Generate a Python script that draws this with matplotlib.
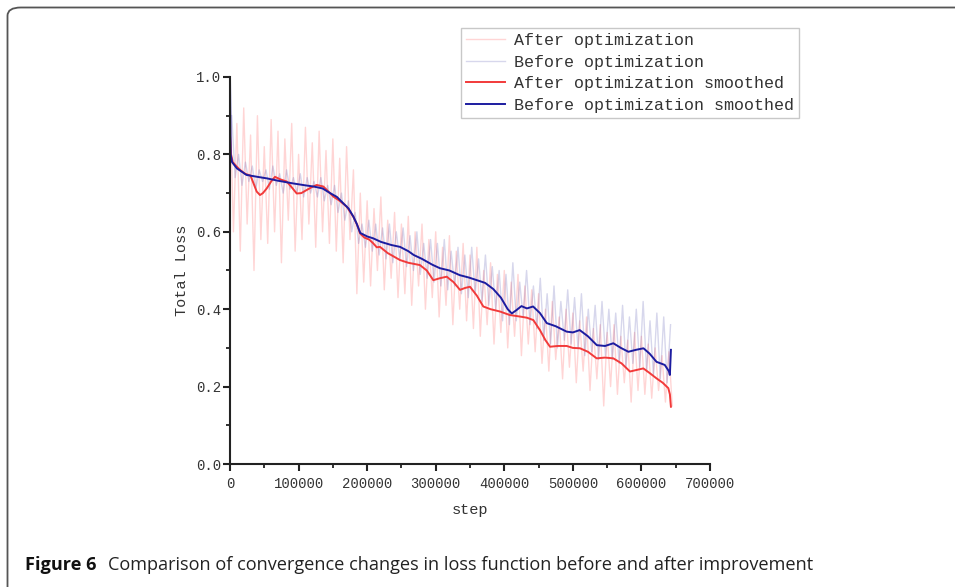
import matplotlib
matplotlib.use("Agg")
import matplotlib.pyplot as plt
from matplotlib.patches import FancyBboxPatch
from matplotlib.ticker import MultipleLocator, FuncFormatter

# ---------------- data ----------------
raw_after_x = list(range(0, 650000, 5000))
raw_after_y = [
    0.95, 0.60, 0.88, 0.55, 0.92, 0.62, 0.85, 0.50, 0.90, 0.58,
    0.82, 0.57, 0.89, 0.60, 0.86, 0.52, 0.84, 0.63, 0.88, 0.55,
    0.80, 0.58, 0.87, 0.62, 0.83, 0.56, 0.86, 0.60, 0.81, 0.57,
    0.84, 0.55, 0.79, 0.52, 0.82, 0.58, 0.76, 0.44, 0.70, 0.47,
    0.68, 0.46, 0.66, 0.50, 0.69, 0.45, 0.63, 0.48, 0.65, 0.43,
    0.62, 0.44, 0.64, 0.41, 0.60, 0.46, 0.62, 0.40, 0.58, 0.43,
    0.60, 0.38, 0.56, 0.41, 0.59, 0.36, 0.55, 0.40, 0.57, 0.37,
    0.54, 0.35, 0.56, 0.33, 0.50, 0.36, 0.52, 0.31, 0.49, 0.34,
    0.50, 0.30, 0.47, 0.33, 0.49, 0.28, 0.46, 0.31, 0.45, 0.29,
    0.44, 0.26, 0.40, 0.24, 0.42, 0.27, 0.38, 0.22, 0.40, 0.25,
    0.39, 0.21, 0.37, 0.24, 0.38, 0.19, 0.35, 0.22, 0.36, 0.15,
    0.34, 0.20, 0.36, 0.18, 0.33, 0.21, 0.32, 0.16, 0.34, 0.19,
    0.33, 0.18, 0.31, 0.17, 0.30, 0.19, 0.28, 0.16, 0.29, 0.15,
]

raw_before_x = list(range(2500, 645000, 5000))
raw_before_y = [
    0.90, 0.74, 0.80, 0.72, 0.78, 0.73, 0.77, 0.71, 0.76, 0.73,
    0.76, 0.71, 0.77, 0.72, 0.75, 0.70, 0.76, 0.71, 0.74, 0.70,
    0.75, 0.69, 0.74, 0.70, 0.73, 0.69, 0.74, 0.68, 0.72, 0.67,
    0.72, 0.65, 0.70, 0.63, 0.68, 0.60, 0.65, 0.57, 0.62, 0.56,
    0.63, 0.55, 0.62, 0.54, 0.61, 0.53, 0.62, 0.52, 0.60, 0.53,
    0.61, 0.51, 0.59, 0.50, 0.60, 0.49, 0.57, 0.48, 0.58, 0.47,
    0.57, 0.46, 0.58, 0.45, 0.55, 0.46, 0.56, 0.44, 0.54, 0.43,
    0.56, 0.44, 0.53, 0.42, 0.54, 0.41, 0.51, 0.40, 0.50, 0.37,
    0.49, 0.36, 0.52, 0.37, 0.47, 0.38, 0.50, 0.36, 0.46, 0.35,
    0.48, 0.32, 0.44, 0.31, 0.46, 0.30, 0.42, 0.32, 0.45, 0.31,
    0.43, 0.30, 0.44, 0.28, 0.40, 0.29, 0.41, 0.27, 0.42, 0.28,
    0.40, 0.27, 0.39, 0.26, 0.41, 0.25, 0.38, 0.26, 0.40, 0.25,
    0.42, 0.24, 0.37, 0.23, 0.39, 0.22, 0.38, 0.21, 0.36,
]

smooth_before_x = [0, 1000, 3000, 10000, 24000, 40000, 54000, 70000, 92000, 110000,
                   122000, 135000, 146000, 156000, 165000, 173000, 180000, 185000, 190000, 200000,
                   209000, 220000, 235000, 248000, 260000, 268000, 280000, 295000, 306000, 320000,
                   335000, 348000, 360000, 372000, 384000, 395000, 405000, 411000, 418000, 425000,
                   433000, 442000, 452000, 462000, 475000, 491000, 500000, 510000, 522000, 535000,
                   547000, 559000, 570000, 581000, 592000, 603000, 612000, 622000, 634000, 640000,
                   641500, 643000]
smooth_before_y = [1.0, 0.80, 0.78, 0.764, 0.747, 0.742, 0.738, 0.732, 0.725, 0.72,
                   0.717, 0.712, 0.70, 0.69, 0.674, 0.66, 0.639, 0.62, 0.597, 0.588,
                   0.583, 0.574, 0.566, 0.561, 0.55, 0.54, 0.53, 0.515, 0.506, 0.50,
                   0.488, 0.482, 0.475, 0.468, 0.452, 0.43, 0.40, 0.389, 0.398, 0.408,
                   0.402, 0.407, 0.39, 0.364, 0.356, 0.342, 0.34, 0.346, 0.33, 0.307,
                   0.305, 0.312, 0.30, 0.29, 0.295, 0.299, 0.285, 0.264, 0.256, 0.24,
                   0.23, 0.295]

smooth_after_x = [0, 1500, 4000, 9000, 14600, 22000, 30000, 38900, 43750, 48000,
                  53500, 60000, 65600, 74000, 82700, 90000, 97300, 104000, 111800, 119000,
                  126400, 136100, 143000, 150700, 160000, 170200, 179800, 185000, 189600, 196000,
                  203000, 209000, 214000, 218750, 230000, 247900, 260000, 277000, 287000, 296500,
                  306000, 316000, 326000, 335400, 343000, 350000, 360000, 369400, 380000, 393750,
                  408000, 422900, 433000, 442300, 452000, 460000, 466700, 478000, 491000, 500000,
                  510400, 522000, 534700, 547000, 559000, 571000, 583300, 593000, 602800, 612000,
                  622200, 631000, 639200, 641500, 643000]
smooth_after_y = [0.85, 0.80, 0.78, 0.77, 0.76, 0.75, 0.745, 0.704, 0.695, 0.70,
                  0.712, 0.73, 0.742, 0.735, 0.73, 0.715, 0.699, 0.70, 0.708, 0.715,
                  0.721, 0.717, 0.705, 0.691, 0.68, 0.665, 0.639, 0.62, 0.596, 0.585,
                  0.58, 0.570, 0.560, 0.561, 0.545, 0.527, 0.52, 0.514, 0.50, 0.475,
                  0.48, 0.484, 0.47, 0.45, 0.455, 0.458, 0.435, 0.407, 0.40, 0.394,
                  0.385, 0.381, 0.378, 0.372, 0.346, 0.32, 0.303, 0.305, 0.305, 0.30,
                  0.299, 0.29, 0.273, 0.275, 0.273, 0.26, 0.239, 0.243, 0.247, 0.235,
                  0.221, 0.21, 0.196, 0.18, 0.148]

labels = ["After optimization", "Before optimization",
          "After optimization smoothed", "Before optimization smoothed"]
x_label = "step"
y_label = "Total Loss"
caption_bold = "Figure 6"
caption_text = "Comparison of convergence changes in loss function before and after improvement"

# ---------------- figure ----------------
W, H = 955, 587
fig = plt.figure(figsize=(W / 100, H / 100), dpi=100)

# rounded frame (clipped at right and bottom)
frame = FancyBboxPatch((7.5 / W, -30 / H), (W + 40) / W, (H + 30 - 7.5) / H,
                       boxstyle="round,pad=0,rounding_size=0.014",
                       transform=fig.transFigure, fill=False,
                       edgecolor="#555555", linewidth=1.3, clip_on=True)
fig.patches.append(frame)

ax = fig.add_axes([230 / W, 1 - 464 / H, 480 / W, 387 / H])
ax.set_facecolor("none")

mono = "Liberation Mono"
tc = "#333333"

ax.plot(raw_after_x, raw_after_y, color="#ff5a5a", alpha=0.25, lw=1.0, label=labels[0])
ax.plot(raw_before_x, raw_before_y, color="#4a4aaa", alpha=0.22, lw=1.0, label=labels[1])
ax.plot(smooth_after_x, smooth_after_y, color="#f23a3a", lw=1.4, label=labels[2])
ax.plot(smooth_before_x, smooth_before_y, color="#1c1ca0", lw=1.4, label=labels[3])

ax.set_xlim(0, 700000)
ax.set_ylim(0, 1.0)
ax.xaxis.set_major_locator(MultipleLocator(100000))
ax.xaxis.set_minor_locator(MultipleLocator(50000))
ax.yaxis.set_major_locator(MultipleLocator(0.2))
ax.yaxis.set_minor_locator(MultipleLocator(0.1))
ax.xaxis.set_major_formatter(FuncFormatter(lambda v, p: f"{int(round(v))}"))
ax.yaxis.set_major_formatter(FuncFormatter(lambda v, p: f"{v:.1f}"))

for s in ["top", "right"]:
    ax.spines[s].set_visible(False)
for s in ["left", "bottom"]:
    ax.spines[s].set_linewidth(1.5)
    ax.spines[s].set_color("#222222")
ax.tick_params(which="major", direction="out", length=5, width=1.5, color="#222222",
               labelsize=10, labelcolor=tc)
ax.tick_params(which="minor", direction="out", length=2.6, width=1.3, color="#222222")
ax.tick_params(axis="x", which="major", pad=4)
ax.tick_params(axis="y", which="major", pad=1.5)
for lab in ax.get_xticklabels() + ax.get_yticklabels():
    lab.set_fontfamily(mono)

ax.set_xlabel(x_label, fontfamily=mono, fontsize=11, color=tc, labelpad=9)
ax.set_ylabel(y_label, fontfamily=mono, fontsize=11, color=tc, labelpad=5)

leg = ax.legend(loc="upper left", bbox_to_anchor=(231 / 480, (464 - 28) / 387),
                borderaxespad=0, frameon=True, fancybox=False,
                prop={"family": mono, "size": 12}, handlelength=2.35,
                labelspacing=0.4, borderpad=0.3, handletextpad=0.5)
leg.get_frame().set_edgecolor("#bbbbbb")
leg.get_frame().set_linewidth(1.0)
for t in leg.get_texts():
    t.set_color(tc)

# caption
fig.text(25 / W, 1 - 565 / H, caption_bold, fontfamily="Open Sans", fontweight="bold",
         fontsize=13.1, color="#111111", va="center", ha="left")
fig.text(108 / W, 1 - 565 / H, caption_text, fontfamily="Open Sans",
         fontsize=13.1, color="#222222", va="center", ha="left")

fig.savefig("out.png", dpi=100)
